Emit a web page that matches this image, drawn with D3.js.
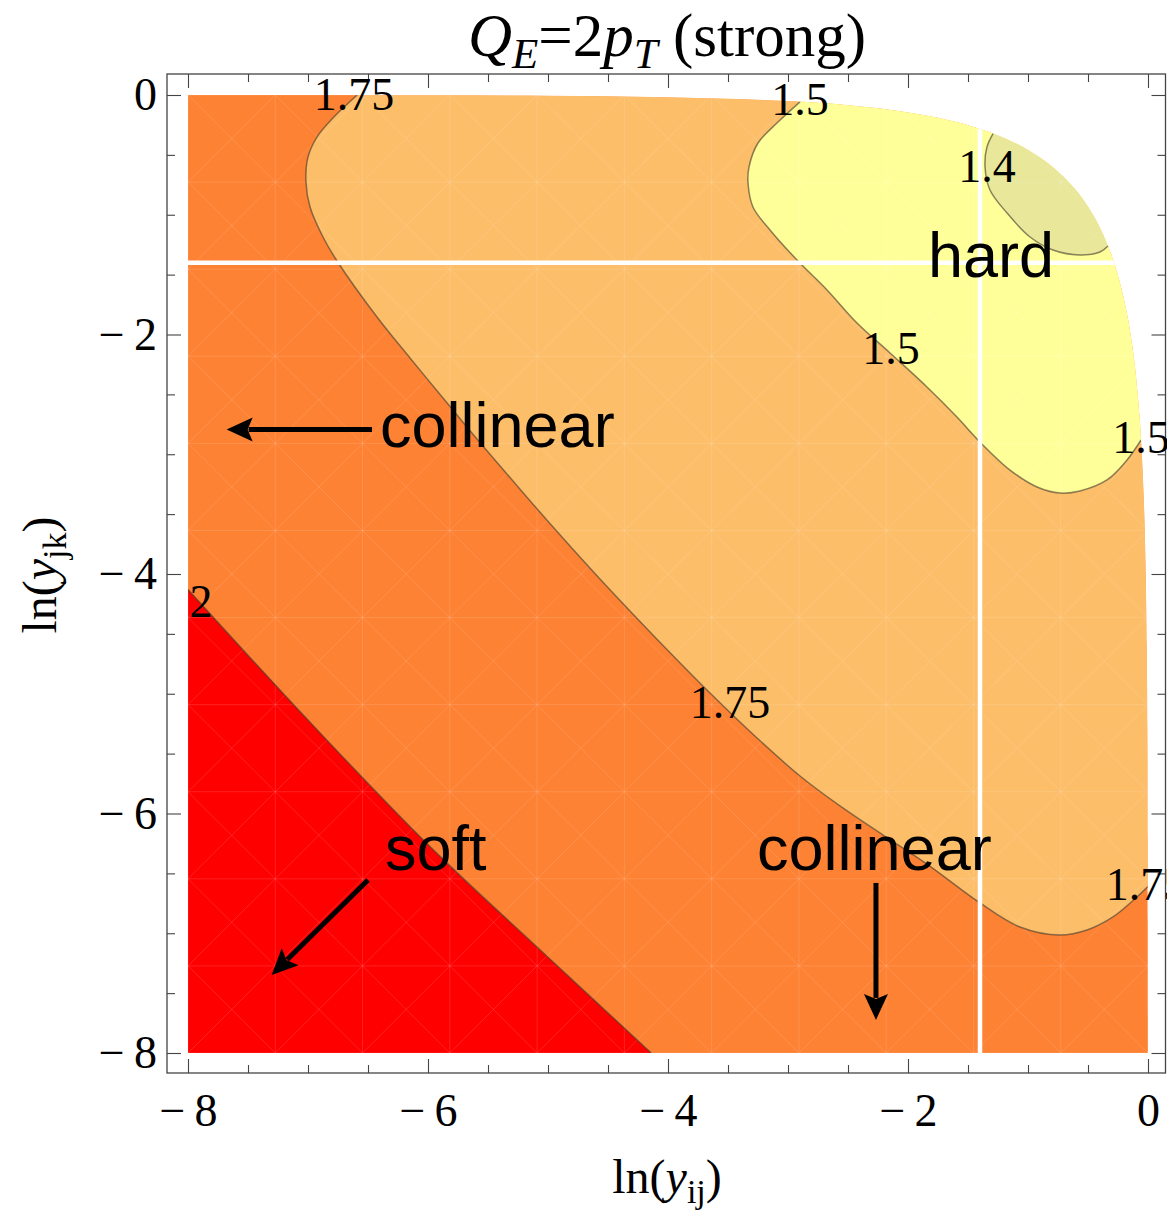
<!DOCTYPE html>
<html>
<head>
<meta charset="utf-8">
<script src="https://cdn.jsdelivr.net/npm/d3@7"></script>
<style>
  html, body { margin: 0; padding: 0; background: #fff; }
  svg { display: block; }
</style>
</head>
<body>
<script>
// ---- values ----
const xMajorTicks = [-8, -6, -4, -2, 0];
const yMajorTicks = [-8, -6, -4, -2, 0];
const minorTicks = [-7.5, -7, -6.5, -5.5, -5, -4.5, -3.5, -3, -2.5, -1.5, -1, -0.5];

// contour levels, in drawing order (outermost first)
const levels = [2, 1.75, 1.5, 1.4];

// upper-right edge of the allowed phase space, (ln y_ij, ln y_jk)
const domainEdge = [[-8, -0.0003], [-6, -0.0025], [-5, -0.0068], [-4, -0.0185], [-3.5, -0.0307],
  [-3, -0.0511], [-2.5, -0.0857], [-2, -0.1454], [-1.75, -0.1909], [-1.5, -0.2525], [-1.25, -0.3376],
  [-1, -0.4587], [-0.8, -0.5966], [-0.6, -0.7958], [-0.5, -0.9327], [-0.4, -1.1096], [-0.3, -1.3502],
  [-0.25, -1.5087], [-0.2, -1.7076], [-0.15, -1.971], [-0.1, -2.3518], [-0.07, -2.6941],
  [-0.05, -3.0206], [-0.03, -3.5217], [-0.02, -3.9221], [-0.01, -4.61], [-0.005, -5.3007],
  [-0.002, -6.2156], [-0.001, -6.9083], [-0.0003, -8]];

// contour lines
const contour2 = [[-8, -4.13], [-7, -5.22], [-6, -6.26], [-5, -7.2], [-4.14, -8]];
const contour175 = [[-6.59, 0], [-6.792, -0.192], [-6.925, -0.351], [-7.0, -0.518], [-7.017, -0.727],
  [-6.983, -0.935], [-6.875, -1.186], [-6.758, -1.386], [-6.425, -1.854], [-6.15, -2.196],
  [-5.875, -2.53], [-5.592, -2.873], [-5.292, -3.223], [-4.958, -3.608], [-4.567, -4.042],
  [-4.15, -4.484], [-3.65, -4.994], [-3.258, -5.37], [-2.9, -5.687], [-2.567, -5.937],
  [-2.208, -6.18], [-1.842, -6.422], [-1.4, -6.747], [-1.067, -6.948],
  [-0.733, -7.015], [-0.508, -6.973], [-0.292, -6.864], [-0.092, -6.697], [-0.001, -6.61]];
const contour15 = [[-2.9, -0.057], [-3.092, -0.234], [-3.25, -0.401], [-3.325, -0.601], [-3.333, -0.735],
  [-3.292, -0.935], [-3.15, -1.127], [-2.925, -1.378], [-2.675, -1.628], [-2.425, -1.904],
  [-2.15, -2.154], [-1.842, -2.438], [-1.592, -2.689], [-1.4, -2.898], [-1.15, -3.132],
  [-0.925, -3.273], [-0.733, -3.324], [-0.567, -3.307], [-0.342, -3.215], [-0.175, -3.048],
  [-0.058, -2.881]];
const contour14 = [[-1.29, -0.32], [-1.342, -0.434], [-1.358, -0.601], [-1.317, -0.793], [-1.175, -0.985],
  [-0.983, -1.186], [-0.792, -1.294], [-0.567, -1.336], [-0.4, -1.311], [-0.333, -1.261]];

// where each level's value is written (label centre x, baseline y)
const contourLabels = [
  [1.75, -6.617, -0.125], [1.5, -2.9, -0.167], [1.4, -1.342, -0.727], [1.5, -2.142, -2.246],
  [1.5, -0.058, -2.99], [2, -7.892, -4.359], [1.75, -3.483, -5.203], [1.75, -0.017, -6.722]];

// region boundaries drawn as white cuts
const cutX = -1.4;
const cutY = -1.4;

// region names and arrows
const regionNames = [["hard", -1.833, -1.52], ["collinear", -6.4, -2.94],
  ["collinear", -3.258, -6.472], ["soft", -6.358, -6.472]];
const arrows = [[[-6.467, -2.793], [-7.678, -2.793]], [[-2.267, -6.58], [-2.267, -7.724]],
  [[-6.5, -6.555], [-7.303, -7.349]]];

// ---- drawing ----
const W = 1167, H = 1211;
const frame = { left: 167, right: 1165.5, top: 74, bottom: 1073 };
const x = d3.scaleLinear().domain([-8, 0]).range([188, 1148]);
const y = d3.scaleLinear().domain([0, -8]).range([95, 1053]);

const bandColor = { 2: "#ff0000", 1.75: "#fe8234", 1.5: "#fdbe6a", 1.4: "#ffff99", low: "#e8e79a" };
const serif = "'Liberation Serif', 'Times New Roman', serif";
const sans = "'Liberation Sans', Arial, Helvetica, sans-serif";

const svg = d3.select("body").append("svg").attr("width", W).attr("height", H);
svg.append("rect").attr("width", W).attr("height", H).attr("fill", "#fff");

const curveLine = d3.line().x(d => x(d[0])).y(d => y(d[1])).curve(d3.curveCatmullRom.alpha(0.5));
const edgeLine = d3.line().x(d => x(d[0])).y(d => y(d[1])).curve(d3.curveMonotoneX);

const domainPath = edgeLine(domainEdge) + `L${x(-8)},${y(-8)}Z`;
svg.append("clipPath").attr("id", "phase").append("path").attr("d", domainPath);

const plot = svg.append("g").attr("clip-path", "url(#phase)");

// background band: between 2 and 1.75
plot.append("path").attr("d", domainPath).attr("fill", bandColor[1.75]);

// above 2 (lower-left corner)
plot.append("path")
  .attr("d", curveLine(contour2) + `L${x(-8)},${y(-8)}Z`)
  .attr("fill", bandColor[2]);

// regions beyond each lower level, closed around the outside of the phase space
function outerRegion(pts) {
  const first = pts[0], last = pts[pts.length - 1];
  return curveLine(pts) +
    `L${x(1)},${y(last[1])}L${x(1)},${y(1)}L${x(first[0])},${y(1)}Z`;
}
plot.append("path").attr("d", outerRegion(contour175)).attr("fill", bandColor[1.5]);
plot.append("path").attr("d", outerRegion(contour15)).attr("fill", bandColor[1.4]);
plot.append("path").attr("d", outerRegion(contour14)).attr("fill", bandColor.low);

// faint triangulation texture of the filled regions
const meshStep = 8 / 11;
const meshK = d3.range(-12, 23);
const mesh = plot.append("g").attr("stroke", "#fff").attr("stroke-opacity", 0.13)
  .attr("stroke-width", 1).attr("fill", "none");
meshK.forEach(k => {
  const c = -8 + k * meshStep;
  mesh.append("line").attr("x1", x(c)).attr("x2", x(c)).attr("y1", y(1)).attr("y2", y(-9));
  mesh.append("line").attr("y1", y(c)).attr("y2", y(c)).attr("x1", x(-9)).attr("x2", x(1));
  // diagonals through the cell corners
  mesh.append("line").attr("x1", x(c - 10)).attr("y1", y(-8 - 10)).attr("x2", x(c + 10)).attr("y2", y(-8 + 10));
  mesh.append("line").attr("x1", x(c - 10)).attr("y1", y(-8 + 10)).attr("x2", x(c + 10)).attr("y2", y(-8 - 10));
});

// contour lines
[contour2, contour175, contour15, contour14].forEach(pts => {
  plot.append("path").attr("d", curveLine(pts))
    .attr("fill", "none")
    .attr("stroke", "rgba(70,62,45,0.62)")
    .attr("stroke-width", 1.5);
});

// white cuts separating hard / collinear regions
plot.append("line")
  .attr("x1", x(cutX)).attr("x2", x(cutX)).attr("y1", y(1)).attr("y2", y(-8))
  .attr("stroke", "#fff").attr("stroke-width", 4.5);
plot.append("line")
  .attr("x1", x(-8)).attr("x2", x(1)).attr("y1", y(cutY)).attr("y2", y(cutY))
  .attr("stroke", "#fff").attr("stroke-width", 4.5);

// ---- frame and ticks ----
const tickColor = "#444";
const minus = v => v < 0 ? "\u2212\u2009" + Math.abs(v) : String(v);

function styleAxis(g) {
  g.select(".domain").remove();
  g.selectAll(".tick line").attr("stroke", tickColor).attr("stroke-width", 1.1);
  g.attr("font-family", serif).attr("font-size", 46);
  g.selectAll(".tick text").attr("fill", "#000");
}

// bottom
svg.append("g").attr("transform", `translate(0,${frame.bottom})`)
  .call(d3.axisBottom(x).tickValues(minorTicks).tickSizeInner(-8).tickSizeOuter(0).tickFormat(""))
  .call(styleAxis);
svg.append("g").attr("transform", `translate(0,${frame.bottom})`)
  .call(d3.axisBottom(x).tickValues(xMajorTicks).tickSizeInner(-14).tickSizeOuter(0)
    .tickPadding(20).tickFormat(minus))
  .call(styleAxis);
// top
svg.append("g").attr("transform", `translate(0,${frame.top})`)
  .call(d3.axisTop(x).tickValues(minorTicks).tickSizeInner(-8).tickSizeOuter(0).tickFormat(""))
  .call(styleAxis);
svg.append("g").attr("transform", `translate(0,${frame.top})`)
  .call(d3.axisTop(x).tickValues(xMajorTicks).tickSizeInner(-14).tickSizeOuter(0).tickFormat(""))
  .call(styleAxis);
// left
svg.append("g").attr("transform", `translate(${frame.left},0)`)
  .call(d3.axisLeft(y).tickValues(minorTicks).tickSizeInner(-8).tickSizeOuter(0).tickFormat(""))
  .call(styleAxis);
svg.append("g").attr("transform", `translate(${frame.left},0)`)
  .call(d3.axisLeft(y).tickValues(yMajorTicks).tickSizeInner(-14).tickSizeOuter(0)
    .tickPadding(10).tickFormat(minus))
  .call(styleAxis);
// right
svg.append("g").attr("transform", `translate(${frame.right},0)`)
  .call(d3.axisRight(y).tickValues(minorTicks).tickSizeInner(-8).tickSizeOuter(0).tickFormat(""))
  .call(styleAxis);
svg.append("g").attr("transform", `translate(${frame.right},0)`)
  .call(d3.axisRight(y).tickValues(yMajorTicks).tickSizeInner(-14).tickSizeOuter(0).tickFormat(""))
  .call(styleAxis);

svg.append("rect")
  .attr("x", frame.left).attr("y", frame.top)
  .attr("width", frame.right - frame.left).attr("height", frame.bottom - frame.top)
  .attr("fill", "none").attr("stroke", tickColor).attr("stroke-width", 1.3);

// ---- contour labels ----
svg.append("g").selectAll("text").data(contourLabels).join("text")
  .attr("x", d => x(d[1])).attr("y", d => y(d[2]))
  .attr("text-anchor", "middle")
  .attr("font-family", serif).attr("font-size", 46).attr("fill", "#000")
  .text(d => String(d[0]));

// ---- region names and arrows ----
svg.append("g").selectAll("text").data(regionNames).join("text")
  .attr("x", d => x(d[1])).attr("y", d => y(d[2]))
  .attr("font-family", sans).attr("font-size", 63).attr("fill", "#000")
  .text(d => d[0]);

const arrowG = svg.append("g");
arrows.forEach(([from, to]) => {
  const x0 = x(from[0]), y0 = y(from[1]), x1 = x(to[0]), y1 = y(to[1]);
  const len = Math.hypot(x1 - x0, y1 - y0);
  const ux = (x1 - x0) / len, uy = (y1 - y0) / len;
  const head = 26, half = 12;
  const bx = x1 - ux * head, by = y1 - uy * head;
  arrowG.append("line")
    .attr("x1", x0).attr("y1", y0).attr("x2", bx + ux * 4).attr("y2", by + uy * 4)
    .attr("stroke", "#000").attr("stroke-width", 5);
  arrowG.append("path")
    .attr("d", `M${x1},${y1}L${bx - uy * half},${by + ux * half}L${bx + ux * 5},${by + uy * 5}L${bx + uy * half},${by - ux * half}Z`)
    .attr("fill", "#000");
});

// ---- titles ----
const title = svg.append("text")
  .attr("x", 667).attr("y", 56).attr("text-anchor", "middle")
  .attr("font-family", serif).attr("font-size", 61).attr("fill", "#000");
title.append("tspan").attr("font-style", "italic").text("Q");
title.append("tspan").attr("font-style", "italic").attr("font-size", 43).attr("dy", 12).text("E");
title.append("tspan").attr("dy", -12).text("=2");
title.append("tspan").attr("font-style", "italic").text("p");
title.append("tspan").attr("font-style", "italic").attr("font-size", 43).attr("dy", 12).text("T");
title.append("tspan").attr("dy", -12).text(" (strong)");

const xLabel = svg.append("text")
  .attr("x", 667).attr("y", 1193).attr("text-anchor", "middle")
  .attr("font-family", serif).attr("font-size", 48).attr("fill", "#000");
xLabel.append("tspan").text("ln(");
xLabel.append("tspan").attr("font-style", "italic").text("y");
xLabel.append("tspan").attr("font-size", 34).attr("dy", 10).text("ij");
xLabel.append("tspan").attr("dy", -10).text(")");

const yLabel = svg.append("text")
  .attr("transform", "translate(56,575) rotate(-90)").attr("text-anchor", "middle")
  .attr("font-family", serif).attr("font-size", 48).attr("fill", "#000");
yLabel.append("tspan").text("ln(");
yLabel.append("tspan").attr("font-style", "italic").text("y");
yLabel.append("tspan").attr("font-size", 34).attr("dy", 10).text("jk");
yLabel.append("tspan").attr("dy", -10).text(")");
</script>
</body>
</html>
